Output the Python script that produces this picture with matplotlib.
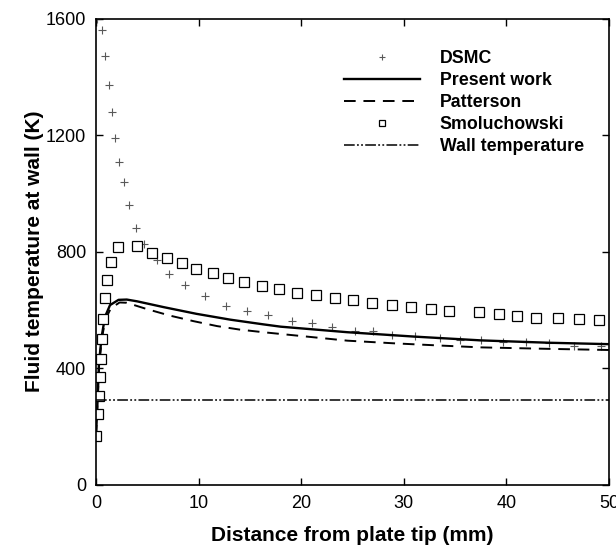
import numpy as np
import matplotlib
matplotlib.use('Agg')
import matplotlib.pyplot as plt

plt.rcParams['font.family'] = ['Liberation Sans', 'DejaVu Sans']

# DSMC data (distance mm, temperature K)
dsmc_x = [0.13, 0.55, 0.88, 1.27, 1.56, 1.89, 2.27, 2.73, 3.25, 3.93, 4.71, 5.92, 7.15, 8.7,
          10.66, 12.68, 14.7, 16.75, 19.1, 21.1, 23.05, 25.2, 26.96, 28.9, 31.1, 33.5, 35.5,
          37.5, 39.7, 41.9, 44.2, 46.6, 49.2]
dsmc_y = [1597, 1561, 1470, 1371, 1280, 1191, 1109, 1038, 962, 883, 825, 771, 725, 685,
          648, 614, 596, 584, 564, 556, 541, 529, 529, 516, 510, 503, 496,
          498, 492, 490, 486, 478, 478]

# Smoluchowski
smol_x = [0.0, 0.16, 0.29, 0.39, 0.49, 0.55, 0.65, 0.88, 1.1, 1.46, 2.18, 4.0, 5.43, 6.9,
          8.36, 9.79, 11.38, 12.88, 14.47, 16.16, 17.88, 19.58, 21.46, 23.25, 25.04, 26.9,
          28.9, 30.73, 32.68, 34.37, 37.37, 39.25, 41.04, 42.93, 45.0, 47.1, 49.07]
smol_y = [168, 242, 306, 369, 432, 500, 571, 640, 702, 765, 817, 820, 797, 779,
          760, 742, 728, 710, 696, 684, 673, 660, 653, 642, 633, 625,
          618, 609, 604, 596, 592, 588, 578, 574, 574, 568, 565]

# Present work
pres_x = [0.0, 0.17, 0.29, 0.55, 0.88, 1.37, 2.2, 3.0, 4.0, 6.6, 9.8, 13.1, 16.3, 18.0,
          24.5, 31.0, 37.5, 44.0, 50.0]
pres_y = [166, 303, 417, 508, 577, 617, 635, 636, 630, 610, 587, 567, 551, 543,
          524, 509, 496, 488, 483]

# Patterson
patt_x = [0.0, 0.17, 0.31, 0.57, 0.92, 1.45, 2.3, 3.0, 4.9, 7.2, 9.5, 11.8, 14.0, 16.3,
          18.0, 24.5, 29.0, 33.7, 37.5, 44.0, 50.0]
patt_y = [166, 300, 412, 502, 568, 606, 626, 625, 604, 581, 562, 545, 533, 524,
          518, 495, 486, 478, 472, 467, 463]

wall_temp = 290

fig = plt.figure(figsize=(6.16, 5.49), dpi=100)
ax = fig.add_axes([0.1558, 0.1166, 0.8328, 0.8497])

ax.plot(dsmc_x, dsmc_y, linestyle='none', marker='+', color='0.35', markersize=6,
        markeredgewidth=0.8, label='DSMC')
ax.plot(pres_x, pres_y, '-', color='black', linewidth=1.7, label='Present work')
ax.plot(patt_x, patt_y, color='black', linewidth=1.4, dashes=(6, 4), label='Patterson')
ax.plot(smol_x, smol_y, linestyle='none', marker='s', markersize=7, markerfacecolor='white',
        markeredgecolor='black', markeredgewidth=0.9, label='Smoluchowski')
ax.plot([0, 50], [wall_temp, wall_temp], color='black', linewidth=1.1,
        dashes=(7, 1.5, 1.2, 1.5, 1.2, 1.5), label='Wall temperature')

ax.set_xlim(0, 50)
ax.set_ylim(0, 1600)
ax.set_xticks([0, 10, 20, 30, 40, 50])
ax.set_yticks([0, 400, 800, 1200, 1600])
ax.tick_params(direction='in', top=True, right=True, labelsize=13, length=5, width=1, pad=7)
for s in ax.spines.values():
    s.set_linewidth(1.2)

ax.set_xlabel('Distance from plate tip (mm)', fontsize=15, fontweight='bold', labelpad=10)
ax.set_ylabel('Fluid temperature at wall (K)', fontsize=15, fontweight='bold', labelpad=1)

leg = ax.legend(loc='upper left', bbox_to_anchor=(0.452, 0.966), frameon=False,
                prop={'size': 12.8, 'weight': 'bold'}, handlelength=4.3, labelspacing=0.28,
                handletextpad=1.1, markerscale=0.7)

fig.savefig('out.png', dpi=100)
